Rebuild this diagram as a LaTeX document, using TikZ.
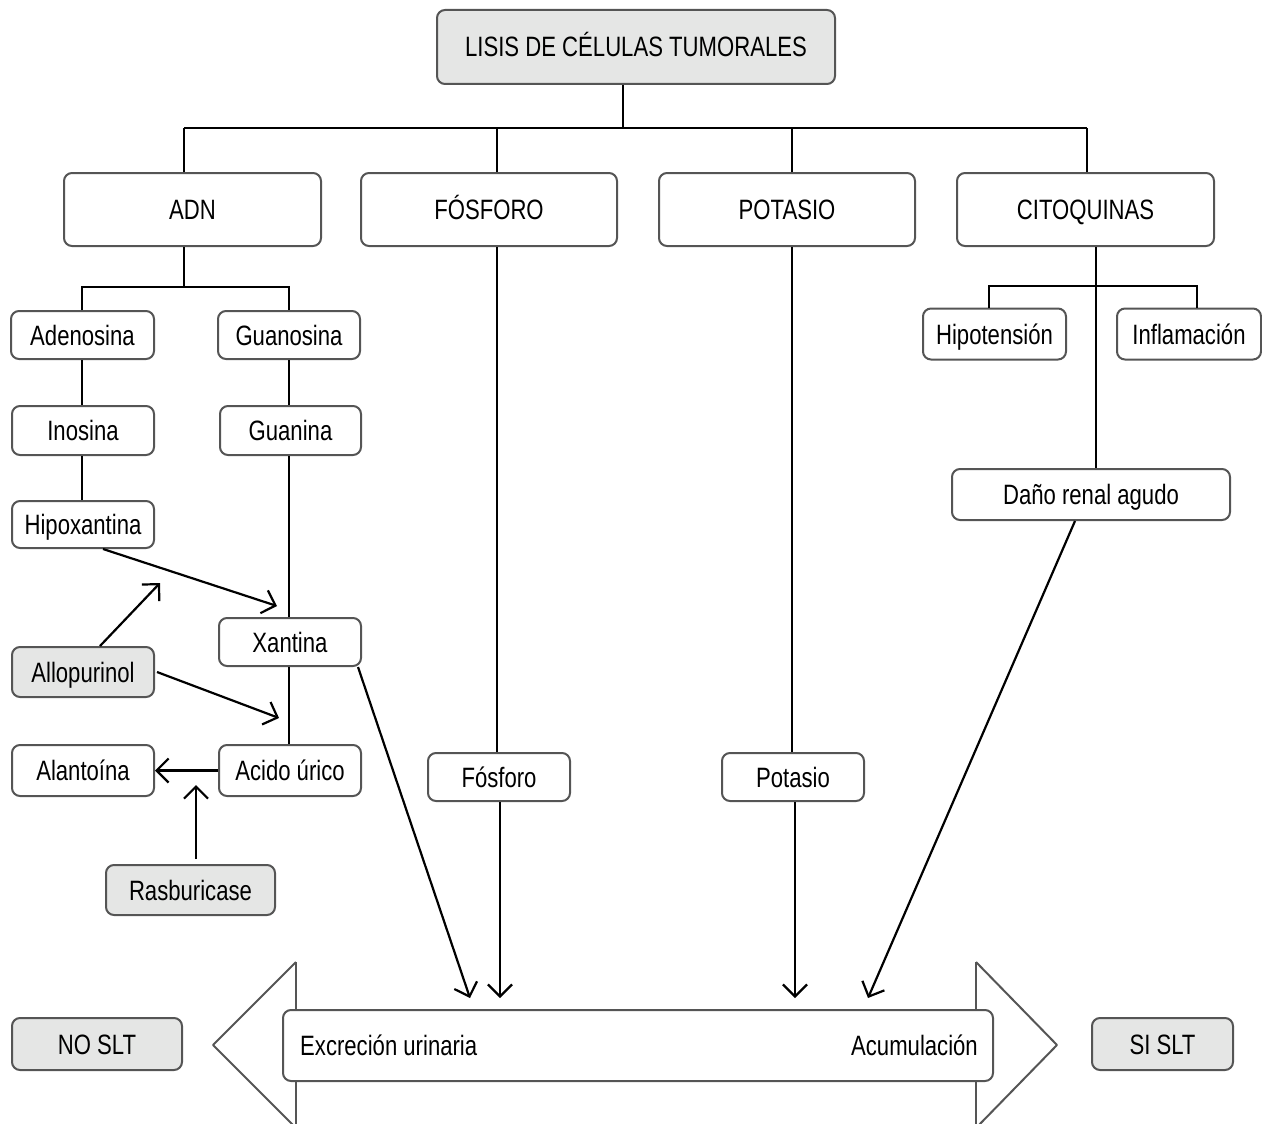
\documentclass[tikz,border=0pt]{standalone}
\usepackage{fontspec}
\setmainfont[FakeStretch=0.79]{Liberation Sans}
\usetikzlibrary{arrows.meta}
\definecolor{boxgray}{HTML}{E5E6E5}
\definecolor{edgegray}{HTML}{555555}
\tikzset{
  lbl/.style={font=\fontsize{28}{32}\selectfont, inner sep=0pt, text=black,
    text height=20pt, text depth=0pt},
  box/.style={lbl, draw=edgegray, line width=2pt, rounded corners=8pt, fill=white},
  gbox/.style={box, fill=boxgray},
  conn/.style={draw=black, line width=2.2pt},
  arr/.style={conn, -{Straight Barb[length=12pt,width=24pt,line width=2.2pt]}},
  bigarrow/.style={draw=edgegray, line width=2pt, line join=round},
}
\begin{document}
\begin{tikzpicture}[x=1pt,y=-1pt]
\useasboundingbox (0,0) rectangle (1262,1124);
% nodes
\node[gbox, minimum width=398pt, minimum height=74pt] (lisis) at (636,47) {LISIS DE CÉLULAS TUMORALES};
\node[box, minimum width=257pt, minimum height=73pt] (adn) at (192.5,209.5) {ADN};
\node[box, minimum width=256pt, minimum height=73pt] (fosf) at (489,209.5) {FÓSFORO};
\node[box, minimum width=256pt, minimum height=73pt] (pot) at (787,209.5) {POTASIO};
\node[box, minimum width=257pt, minimum height=73pt] (cito) at (1085.5,209.5) {CITOQUINAS};
\node[box, minimum width=143pt, minimum height=48pt] (aden) at (82.5,335) {Adenosina};
\node[box, minimum width=142pt, minimum height=48pt] (guano) at (289,335) {Guanosina};
\node[box, minimum width=142pt, minimum height=49pt] (inos) at (83,430.5) {Inosina};
\node[box, minimum width=141pt, minimum height=49pt] (guanina) at (290.5,430.5) {Guanina};
\node[box, minimum width=142pt, minimum height=47pt] (hipox) at (83,524.5) {Hipoxantina};
\node[box, minimum width=142pt, minimum height=48pt] (xant) at (290,642) {Xantina};
\node[gbox, minimum width=142pt, minimum height=50pt] (allo) at (83,672) {Allopurinol};
\node[box, minimum width=142pt, minimum height=51pt] (acido) at (290,770.5) {Acido úrico};
\node[box, minimum width=142pt, minimum height=51pt] (alant) at (83,770.5) {Alantoína};
\node[gbox, minimum width=169pt, minimum height=50pt] (rasb) at (190.5,890) {Rasburicase};
\node[box, minimum width=142pt, minimum height=48pt] (fosfs) at (499,777) {Fósforo};
\node[box, minimum width=142pt, minimum height=48pt] (pots) at (793,777) {Potasio};
\node[box, minimum width=143pt, minimum height=51pt] (hipot) at (994.5,334) {Hipotensión};
\node[box, minimum width=144pt, minimum height=51pt] (infl) at (1189,334) {Inflamación};
\node[box, minimum width=278pt, minimum height=51pt] (dano) at (1091,494.5) {Daño renal agudo};
\node[gbox, minimum width=170pt, minimum height=52pt] (noslt) at (97,1044) {NO SLT};
\node[gbox, minimum width=141pt, minimum height=52pt] (sislt) at (1162.5,1044) {SI SLT};
% big double arrow
\coordinate (ltip) at (213,1045);
\coordinate (rtip) at (1057,1045);
\draw[bigarrow] (296,962) -- (ltip) -- (296,1128);
\draw[bigarrow] (296,962) -- (296,1128);
\draw[bigarrow] (976,962) -- (rtip) -- (976,1128);
\draw[bigarrow] (976,962) -- (976,1128);
\node[box, minimum width=710pt, minimum height=71pt] (bar) at (638,1045.5) {};
\node[lbl, anchor=west] (excr) at (300,1045) {Excreción urinaria};
\node[lbl, anchor=east] (acum) at (978,1045) {Acumulación};
% tree connectors
\coordinate (bus) at (623,128);
\draw[conn] (lisis.south -| bus) -- (bus);
\draw[conn] (184,128) -- (1087,128);
\draw[conn] (adn.north -| 184,0) -- (184,128);
\draw[conn] (fosf.north -| 497,0) -- (497,128);
\draw[conn] (pot.north -| 792,0) -- (792,128);
\draw[conn] (cito.north -| 1087,0) -- (1087,128);
% ADN branch
\draw[conn] (adn.south -| 184,0) -- (184,287);
\draw[conn] (aden.north -| 82,0) |- (289,287) -- (guano.north -| 289,0);
\draw[conn] (aden.south -| 82,0) -- (inos.north -| 82,0);
\draw[conn] (inos.south -| 82,0) -- (hipox.north -| 82,0);
\draw[conn] (guano.south -| 289,0) -- (guanina.north -| 289,0);
\draw[conn] (guanina.south -| 289,0) -- (xant.north -| 289,0);
\draw[conn] (xant.south -| 289,0) -- (acido.north -| 289,0);
% arrows left part
\draw[arr] (hipox.south -| 103,0) -- (277,606);
\draw[arr] (allo.north -| 100,0) -- (160,583);
\draw[arr] (allo.east) ++(2,0) -- (279,718);
\draw[arr] (acido.west) -- (alant.east);
\draw[arr] (rasb.north -| 196,0) ++(0,-5) -- (196,785);
\draw[arr] (xant.south east) ++(-4,0) -- (470,998);
% phosphorus / potassium
\draw[conn] (fosf.south -| 497,0) -- (fosfs.north -| 497,0);
\draw[arr] (fosfs.south -| 500,0) -- (500,998);
\draw[conn] (pot.south -| 792,0) -- (pots.north -| 792,0);
\draw[arr] (pots.south -| 795,0) -- (795,998);
% cytokines
\draw[conn] (cito.south -| 1096,0) -- (dano.north -| 1096,0);
\draw[conn] (hipot.north -| 989,0) |- (1197,286) -- (infl.north -| 1197,0);
\draw[arr] (dano.south -| 1075,0) -- (868,998);
\end{tikzpicture}
\end{document}
